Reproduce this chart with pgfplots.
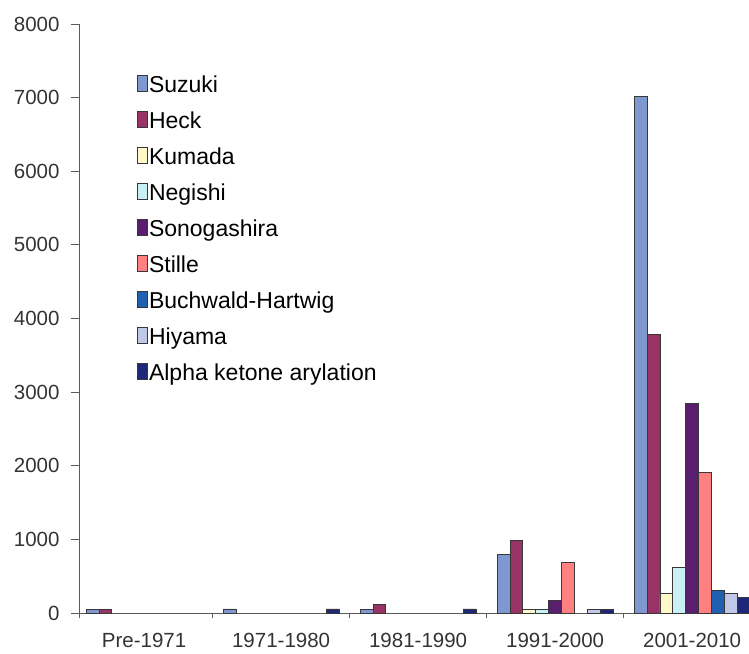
\documentclass[border=0pt]{standalone}
\usepackage{pgfplots}
\pgfplotsset{compat=1.18}
\usepackage{fontspec}
\setmainfont{Liberation Sans}
\definecolor{cSuzuki}{HTML}{8098D0}
\definecolor{cHeck}{HTML}{993366}
\definecolor{cKumada}{HTML}{FFF8C8}
\definecolor{cNegishi}{HTML}{C8F0F5}
\definecolor{cSono}{HTML}{5A1E6E}
\definecolor{cStille}{HTML}{FF8080}
\definecolor{cBuch}{HTML}{2060B0}
\definecolor{cHiyama}{HTML}{C0C8E8}
\definecolor{cAlpha}{HTML}{1E2878}
\definecolor{cEdge}{HTML}{383838}
\pgfplotsset{
  mybar/.style={fill=#1, draw=cEdge, line width=0.9pt,
    legend image code/.code={\draw[##1] (0pt,-5pt) rectangle (10pt,11pt);}},
}
\begin{document}
\begin{tikzpicture}
\useasboundingbox (0,0) rectangle (749pt,653pt);
\begin{axis}[
  at={(79pt,40pt)}, anchor=south west,
  scale only axis, width=670pt, height=589pt,
  xmin=-0.475, xmax=4.415, ymin=0, ymax=8000,
  axis x line=bottom, axis y line=left,
  axis line style={-, draw=black!65, line width=1pt},
  ybar=0pt, bar width=0.094,
  xtick={0,1,2,3,4},
  xticklabels={Pre-1971,1971-1980,1981-1990,1991-2000,2001-2010},
  major x tick style={draw=none},
  minor xtick={-0.475,0.5,1.5,2.5,3.5},
  minor x tick style={draw=black!65, line width=1pt},
  major y tick style={draw=black!65, line width=1pt},
  tick align=outside,
  major tick length=8pt, minor tick length=5pt,
  ytick={0,1000,...,8000},
  tick label style={font=\fontsize{20.5}{24}\selectfont, text=black!80},
  x tick label style={yshift=-9pt},
  y tick label style={xshift=-8pt},
  /pgf/number format/assume math mode=true,
  /pgf/number format/1000 sep={},
  legend style={at={(0.082,0.917)}, anchor=north west, draw=none, fill=none,
    font=\fontsize{23}{27}\selectfont, row sep=13pt,
    nodes={inner sep=1pt, text height=16pt, text depth=5pt},
    /tikz/every odd column/.style={column sep=0pt}},
  legend cell align=left,
]
\addplot[mybar=cSuzuki] coordinates {(0,50) (1,55) (2,50) (3,790) (4,7020)};
\addplot[mybar=cHeck] coordinates {(0,50) (2,115) (3,990) (4,3780)};
\addplot[mybar=cKumada] coordinates {(3,45) (4,260)};
\addplot[mybar=cNegishi] coordinates {(3,45) (4,625)};
\addplot[mybar=cSono] coordinates {(3,175) (4,2850)};
\addplot[mybar=cStille] coordinates {(3,680) (4,1915)};
\addplot[mybar=cBuch] coordinates {(4,310)};
\addplot[mybar=cHiyama] coordinates {(3,45) (4,260)};
\addplot[mybar=cAlpha] coordinates {(1,55) (2,55) (3,45) (4,205)};
\legend{Suzuki,Heck,Kumada,Negishi,Sonogashira,Stille,Buchwald-Hartwig,Hiyama,Alpha ketone arylation}
\end{axis}
\end{tikzpicture}
\end{document}
